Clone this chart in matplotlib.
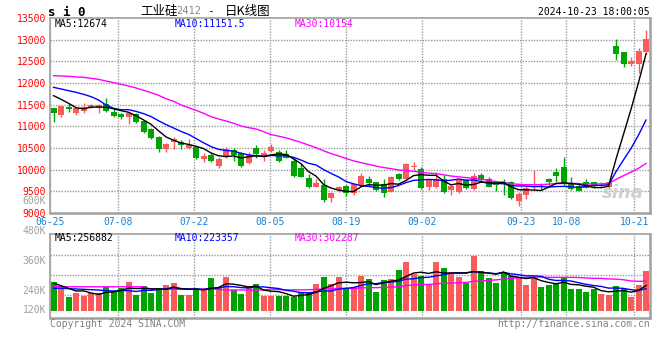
import matplotlib.pyplot as plt
import numpy as np
import pandas as pd

# si0 daily K, index 0 = 2024-06-25
opens = [11430, 11262, 11446, 11315, 11362, 11446, 11416, 11523, 11338, 11285,
         11223, 11285, 11123, 10939, 10762, 10477, 10631, 10646, 10492, 10515,
         10239, 10339, 10085, 10300, 10454, 10377, 10161, 10492, 10300, 10438,
         10400, 10354, 10207, 10046, 9815, 9608, 9646, 9338, 9531, 9623,
         9454, 9646, 9785, 9708, 9662, 9492, 9900, 9785, 10054, 10015,
         9608, 9592, 9785, 9531, 9477, 9762, 9546, 9877, 9785, 9723,
         9700, 9723, 9285, 9415, 9608, 9631, 9777, 9939, 10069, 9662,
         9631, 9723, 9708, 9615, 9592, 12861, 12709, 12439, 12439, 12723]
highs = [11430, 11469, 11509, 11446, 11546, 11523, 11523, 11662, 11430, 11315,
         11338, 11315, 11146, 10962, 10785, 10608, 10754, 10685, 10708, 10546,
         10392, 10392, 10300, 10523, 10492, 10400, 10400, 10569, 10454, 10592,
         10454, 10446, 10262, 10138, 9892, 9785, 9785, 9492, 9631, 9646,
         9700, 9931, 9854, 9723, 9785, 9862, 9931, 10146, 10184, 10054,
         9777, 9954, 9877, 9646, 9785, 9785, 9931, 9931, 9823, 9746,
         9777, 9738, 9485, 9623, 9992, 9700, 9800, 10031, 10300, 9823,
         9662, 9785, 9723, 9723, 9723, 13016, 12709, 12594, 12801, 13224]
lows = [11108, 11223, 11338, 11262, 11301, 11430, 11315, 11338, 11208, 11162,
        11046, 11069, 10854, 10715, 10415, 10415, 10469, 10477, 10469, 10246,
        10184, 10184, 10046, 10269, 10207, 10069, 10138, 10269, 10207, 10415,
        10184, 10262, 9823, 9823, 9577, 9592, 9262, 9254, 9492, 9400,
        9423, 9623, 9623, 9515, 9362, 9477, 9762, 9762, 9992, 9554,
        9523, 9577, 9469, 9408, 9462, 9546, 9531, 9708, 9592, 9515,
        9415, 9315, 9162, 9323, 9523, 9523, 9592, 9723, 9646, 9531,
        9500, 9569, 9569, 9569, 9569, 12531, 12363, 12393, 12238, 12663]
closes = [11301, 11469, 11400, 11416, 11439, 11485, 11493, 11362, 11246, 11223,
          11301, 11092, 10877, 10738, 10477, 10592, 10708, 10569, 10569, 10262,
          10323, 10207, 10246, 10469, 10339, 10092, 10339, 10362, 10392, 10515,
          10207, 10277, 9854, 9838, 9592, 9700, 9300, 9454, 9592, 9454,
          9669, 9854, 9700, 9531, 9469, 9838, 9785, 10131, 10092, 9585,
          9762, 9777, 9492, 9623, 9754, 9569, 9854, 9754, 9608, 9646,
          9669, 9338, 9431, 9585, 9631, 9608, 9723, 9854, 9662, 9554,
          9515, 9585, 9623, 9650, 9708, 12670, 12439, 12508, 12739, 13016]
volumes = [274.8, 260, 216, 232, 220, 232, 232, 256, 241, 252,
           276, 224, 260, 232, 252, 264, 272, 224, 224, 252,
           252, 292, 252, 296, 244, 228, 260, 268, 220, 220,
           220, 220, 216, 236, 236, 268, 296, 268, 296, 248,
           256, 300, 288, 236, 284, 288, 324, 356, 308, 300,
           264, 356, 332, 308, 296, 272, 380, 320, 292, 272,
           316, 300, 296, 264, 292, 256, 264, 268, 296, 248,
           248, 236, 248, 228, 224, 260, 248, 216, 264, 320]  # K

# moving-average values at the start of the window
ma5_lead = [11708, 11624, 11532, 11431]
ma10_lead = [11900, 11862, 11823, 11785, 11739, 11685, 11608, 11493, 11416]
ma30_lead = [12169, 12162, 12154, 12139, 12131, 12108, 12085, 12046, 12008, 11970,
             11931, 11885, 11831, 11777, 11716, 11638, 11578, 11493, 11431, 11370,
             11301, 11223, 11170, 11123, 11070, 11008, 10969, 10939, 10877]
vma5_lead = [270.8, 261.2, 250.8, 240.0]
vma10_lead = [250.8, 250.8, 249.2, 248.0, 246.8, 245.2, 244.0, 241.2, 240.0]
vma30_lead = [257] * 13 + [247] * 10 + [244] * 6

date_labels = ['06-25', '07-08', '07-22', '08-05', '08-19', '09-02', '09-23', '10-08', '10-21']
date_idx = [0, 9, 19, 29, 39, 49, 62, 68, 77]
price_ticks = [9000, 9500, 10000, 10500, 11000, 11500, 12000, 12500, 13000, 13500]

RED = '#fa5a5a'
GREEN = '#00a400'
GRID = '#9c9c9c'
MONO = 'DejaVu Sans Mono'
CJK = ['Noto Sans CJK SC', 'DejaVu Sans']
DOTS = dict(colors=GRID, linewidths=1.0, linestyles=[(0, (1, 1))], zorder=1)


def moving_avg(vals, n, lead):
    s = pd.Series(vals, dtype=float).rolling(n).mean()
    s.iloc[:len(lead)] = lead
    return s.values


W, H = 660, 360
XL = (-0.47, 79.53)
fig = plt.figure(figsize=(6.6, 3.6), dpi=100)


def ftext(x, y, s, **kw):
    kw.setdefault('family', MONO)
    kw.setdefault('fontsize', 7)
    kw.setdefault('va', 'center')
    fig.text(x / W, 1 - y / H, s, **kw)


ax = fig.add_axes([50 / W, 1 - 213 / H, 600 / W, 195 / H])
axv = fig.add_axes([50 / W, 1 - 318 / H, 600 / W, 84 / H])

x = np.arange(len(closes))
o, h, l, c = map(np.array, (opens, highs, lows, closes))
up = c >= o
cols = np.where(up, RED, GREEN)
grid_x = np.array(date_idx) * 1.012 - 0.47

# ---- price panel
ax.vlines(grid_x, 9000, 13500, **DOTS)
ax.hlines(price_ticks[1:-1], XL[0], XL[1], **DOTS)

ax.vlines(x, l, h, colors=cols, lw=1, zorder=2)
body = np.maximum(np.abs(c - o), 12)
ax.bar(x, body, bottom=np.minimum(o, c), width=0.8, color=cols, lw=0, zorder=3)

ax.plot(x, moving_avg(closes, 30, ma30_lead), color='#ff00ff', lw=1, zorder=4)
ax.plot(x, moving_avg(closes, 10, ma10_lead), color='#0000ff', lw=1, zorder=4)
ax.plot(x, moving_avg(closes, 5, ma5_lead), color='#000000', lw=1, zorder=5)

ax.set_xlim(*XL)
ax.set_ylim(9000, 13500)
ax.set_yticks(price_ticks)
ax.set_yticklabels([str(p) for p in price_ticks], color='#ff0000', family=MONO, fontsize=7)
ax.set_xticks(grid_x)
ax.set_xticklabels(date_labels, color='#1a82d0', family=MONO, fontsize=7)
ax.tick_params(length=0, pad=3)
ax.text(0.955, 0.105, 'sina', transform=ax.transAxes, ha='center', va='center',
        fontsize=13, fontweight='bold', style='italic', color='#d0d0d0', zorder=1)

# ---- volume panel
axv.vlines(grid_x, 132, 468, **DOTS)
axv.hlines([224, 304, 384], XL[0], XL[1], **DOTS)
vol = np.array(volumes)
axv.bar(x, vol - 160, bottom=160, width=0.8, color=cols, lw=0, zorder=2)
axv.plot(x, moving_avg(volumes, 30, vma30_lead), color='#ff00ff', lw=1, zorder=3)
axv.plot(x, moving_avg(volumes, 10, vma10_lead), color='#0000ff', lw=1, zorder=3)
axv.plot(x, moving_avg(volumes, 5, vma5_lead), color='#000000', lw=1, zorder=4)
axv.set_xlim(*XL)
axv.set_ylim(132, 468)
axv.set_xticks([])
axv.set_yticks([])

for a in (ax, axv):
    for s in a.spines.values():
        s.set_color('#a0a0a0')
        s.set_linewidth(1.2)
    a.spines['right'].set_linewidth(1.8)
    a.spines['bottom'].set_linewidth(1.8)

# volume / open-interest axis labels
for lbl, yy in (('480K', 231), ('360K', 261), ('240K', 291), ('120K', 310), ('600K', 201)):
    ftext(46, yy, lbl, ha='right', color='#a0a0a0')

# header
ftext(48, 12, 's i 0', fontsize=9, fontweight='bold')
ftext(140, 11, '工业硅', family=CJK, fontsize=9)
ftext(176, 11.5, '2412', color='#888888', fontsize=7.5)
ftext(207, 11, '-', fontsize=8)
ftext(225, 11, '日K线图', family=CJK, fontsize=9)
ftext(650, 12, '2024-10-23 18:00:05', ha='right')

# MA legends
ftext(55, 24, 'MA5:12674', color='#000000')
ftext(175, 24, 'MA10:11151.5', color='#0000ff')
ftext(295, 24, 'MA30:10154', color='#ff00ff')
ftext(55, 238, 'MA5:256882', color='#000000')
ftext(175, 238, 'MA10:223357', color='#0000ff')
ftext(295, 238, 'MA30:302287', color='#ff00ff')

# footer
ftext(50, 324, 'Copyright 2024 SINA.COM', color='#808080')
ftext(650, 324, 'http://finance.sina.com.cn', ha='right', color='#808080')

fig.savefig('out.png', dpi=100)
